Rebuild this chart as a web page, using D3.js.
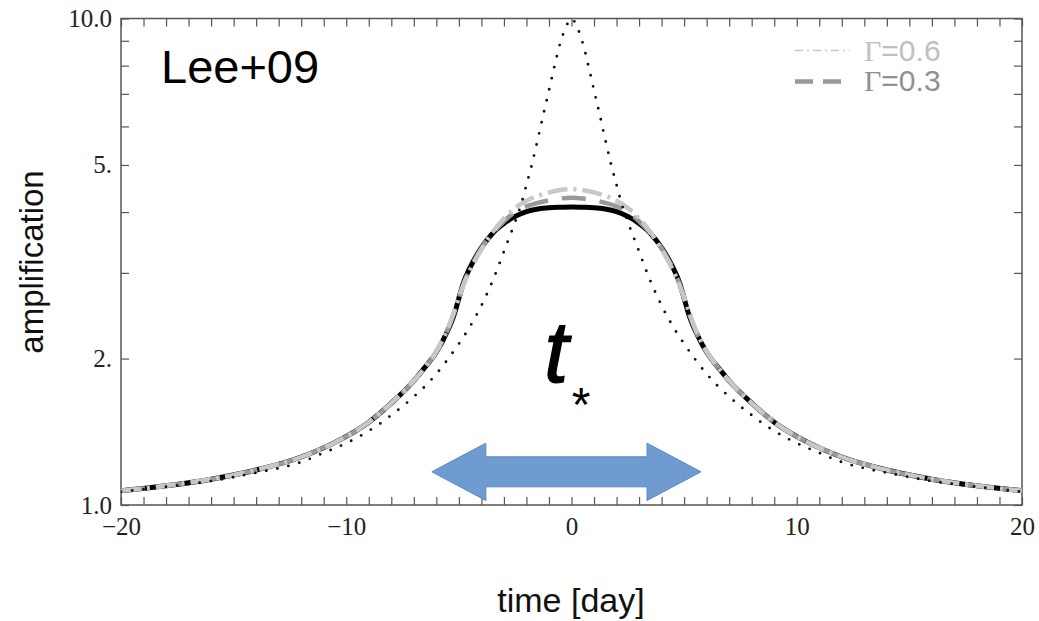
<!DOCTYPE html>
<html>
<head>
<meta charset="utf-8">
<script src="https://cdn.jsdelivr.net/npm/d3@7"></script>
<style>
  html, body { margin: 0; padding: 0; background: #fff; }
  svg { display: block; }
</style>
</head>
<body>
<svg id="chart" width="1039" height="621"></svg>
<script>
// Time samples (days) for the finite-source light curves
const days = [-20,-18,-16,-14,-12,-10.5,-9,-8,-7,-6.5,-6,-5.5,-5.2,-5,-4.8,-4.5,-4,-3.5,-3,-2.5,-2,-1.5,-1,-0.5,0,
              0.5,1,1.5,2,2.5,3,3.5,4,4.5,4.8,5,5.2,5.5,6,6.5,7,8,9,10.5,12,14,16,18,20];

// Uniform source (solid)
const uniformSource = [1.07,1.095,1.13,1.18,1.255,1.345,1.48,1.62,1.80,1.92,2.06,2.28,2.47,2.66,2.86,3.08,3.38,3.62,3.79,3.92,4.01,4.06,4.085,4.095,4.10,
                       4.095,4.085,4.06,4.01,3.92,3.79,3.62,3.38,3.08,2.86,2.66,2.47,2.28,2.06,1.92,1.80,1.62,1.48,1.345,1.255,1.18,1.13,1.095,1.07];

// Limb-darkened source, Gamma = 0.3 (dashed)
const gamma03 = [1.07,1.095,1.13,1.18,1.255,1.345,1.48,1.62,1.80,1.92,2.06,2.29,2.49,2.66,2.84,3.06,3.37,3.62,3.83,4.00,4.11,4.18,4.23,4.265,4.28,
                 4.265,4.23,4.18,4.11,4.00,3.83,3.62,3.37,3.06,2.84,2.66,2.49,2.29,2.06,1.92,1.80,1.62,1.48,1.345,1.255,1.18,1.13,1.095,1.07];

// Limb-darkened source, Gamma = 0.6 (dash-dot)
const gamma06 = [1.07,1.095,1.13,1.18,1.255,1.345,1.48,1.62,1.80,1.92,2.07,2.30,2.51,2.67,2.83,3.04,3.35,3.64,3.88,4.08,4.22,4.32,4.39,4.44,4.46,
                 4.44,4.39,4.32,4.22,4.08,3.88,3.64,3.35,3.04,2.83,2.67,2.51,2.30,2.07,1.92,1.80,1.62,1.48,1.345,1.255,1.18,1.13,1.095,1.07];

// Point source (dotted)
const pointDays = [-20,-18,-16,-14,-13,-12,-11,-10,-9,-8.5,-8,-7.5,-7,-6.5,-6,-5.5,-5,-4.5,-4,-3.5,-3.25,-3,-2.75,-2.5,-2.25,-2,-1.75,-1.5,-1.25,-1,-0.75,-0.5,-0.25,0,
                   0.25,0.5,0.75,1,1.25,1.5,1.75,2,2.25,2.5,2.75,3,3.25,3.5,4,4.5,5,5.5,6,6.5,7,7.5,8,8.5,9,10,11,12,13,14,16,18,20];
const pointSource = [1.065,1.09,1.12,1.165,1.19,1.225,1.28,1.34,1.42,1.47,1.53,1.595,1.67,1.755,1.86,1.99,2.145,2.33,2.57,2.89,3.09,3.32,3.56,3.82,4.13,4.55,5.03,5.64,6.35,7.12,8.0,8.9,9.6,10.0,
                     9.6,8.9,8.0,7.12,6.35,5.64,5.03,4.55,4.13,3.82,3.56,3.32,3.09,2.89,2.57,2.33,2.145,1.99,1.86,1.755,1.67,1.595,1.53,1.47,1.42,1.34,1.28,1.225,1.19,1.165,1.12,1.09,1.065];

// Axis ticks and labels
const xMinorTicks = d3.range(-20, 21, 1);
const xLabelTicks = [-20, -10, 0, 10, 20];
const yMinorTicks = [1, 2, 3, 4, 5, 6, 7, 8, 9, 10];
const yLabels = {1: "1.0", 2: "2.", 5: "5.", 10: "10.0"};

// Legend entries
const legendEntries = ["0.6", "0.3"];

// Width of the t* arrow in days, and its height on the amplification axis
const arrowStart = -6.2, arrowEnd = 5.75, arrowLevel = 1.17;

const svg = d3.select("#chart");
const W = 1039, H = 621;
const plot = {left: 121, right: 1022, top: 18.5, bottom: 505};

svg.append("rect").attr("width", W).attr("height", H).attr("fill", "#fff");

const x = d3.scaleLinear().domain([-20, 20]).range([plot.left, plot.right]);
const y = d3.scaleLog().domain([1, 10]).range([plot.bottom, plot.top]);

const frameColor = "#555";
const labelFont = "'Liberation Serif', 'Times New Roman', serif";
const sansFont = "'Liberation Sans', Arial, sans-serif";

// Ticks on all four sides, pointing inward
const tickLen = 8;
function styleAxis(g) {
  g.select(".domain").remove();
  g.selectAll(".tick line").attr("stroke", frameColor).attr("stroke-width", 1.2);
}
svg.append("g").attr("transform", `translate(0,${plot.bottom})`)
  .call(d3.axisBottom(x).tickValues(xMinorTicks).tickSize(-tickLen).tickFormat(""))
  .call(styleAxis);
svg.append("g").attr("transform", `translate(0,${plot.top})`)
  .call(d3.axisTop(x).tickValues(xMinorTicks).tickSize(-tickLen).tickFormat(""))
  .call(styleAxis);
svg.append("g").attr("transform", `translate(${plot.left},0)`)
  .call(d3.axisLeft(y).tickValues(yMinorTicks).tickSize(-tickLen).tickFormat(""))
  .call(styleAxis);
svg.append("g").attr("transform", `translate(${plot.right},0)`)
  .call(d3.axisRight(y).tickValues(yMinorTicks).tickSize(-tickLen).tickFormat(""))
  .call(styleAxis);

// Tick labels
const xLab = svg.append("g").attr("transform", `translate(0,${plot.bottom})`)
  .call(d3.axisBottom(x).tickValues(xLabelTicks).tickSize(0).tickPadding(12).tickFormat(d3.format("d")));
xLab.select(".domain").remove();
xLab.selectAll("text").attr("font-family", labelFont).attr("font-size", 25).attr("fill", "#222");

const yLab = svg.append("g").attr("transform", `translate(${plot.left},0)`)
  .call(d3.axisLeft(y).tickValues([1, 2, 5, 10]).tickSize(0).tickPadding(9).tickFormat(d => yLabels[d]));
yLab.select(".domain").remove();
yLab.selectAll("text").attr("font-family", labelFont).attr("font-size", 25).attr("fill", "#222");

// Frame
svg.append("rect")
  .attr("x", plot.left).attr("y", plot.top)
  .attr("width", plot.right - plot.left).attr("height", plot.bottom - plot.top)
  .attr("fill", "none").attr("stroke", frameColor).attr("stroke-width", 1.5);

// Clip curves to the plotting area
svg.append("clipPath").attr("id", "plotClip").append("rect")
  .attr("x", plot.left).attr("y", plot.top - 2)
  .attr("width", plot.right - plot.left).attr("height", plot.bottom - plot.top + 2);

const line = d3.line().x(d => x(d[0])).y(d => y(d[1])).curve(d3.curveMonotoneX);
const curves = svg.append("g").attr("clip-path", "url(#plotClip)");

curves.append("path")
  .attr("d", line(d3.zip(days, uniformSource)))
  .attr("fill", "none").attr("stroke", "#000").attr("stroke-width", 5);

curves.append("path")
  .attr("d", line(d3.zip(days, gamma03)))
  .attr("fill", "none").attr("stroke", "#999").attr("stroke-width", 4.5)
  .attr("stroke-dasharray", "24,14");

curves.append("path")
  .attr("d", line(d3.zip(days, gamma06)))
  .attr("fill", "none").attr("stroke", "#c8c8c8").attr("stroke-width", 4.5)
  .attr("stroke-dasharray", "20,6,3,6");

curves.append("path")
  .attr("d", line(d3.zip(pointDays, pointSource)))
  .attr("fill", "none").attr("stroke", "#111").attr("stroke-width", 2.9)
  .attr("stroke-linecap", "round").attr("stroke-dasharray", "0,11.3");

// Legend
const legendX0 = 795, legendX1 = 850, legendTextX = 864;
const legendStyles = [
  {color: "#c8c8c8", width: 1.6, dash: "8,4,2,4", lineY: 50.5, textY: 61, text: "#c0c0c0"},
  {color: "#999", width: 4.5, dash: "18,10", lineY: 81.5, textY: 91, text: "#909090"}
];
legendEntries.forEach((g, i) => {
  const s = legendStyles[i];
  svg.append("line")
    .attr("x1", legendX0).attr("x2", legendX1).attr("y1", s.lineY).attr("y2", s.lineY)
    .attr("stroke", s.color).attr("stroke-width", s.width).attr("stroke-dasharray", s.dash);
  const t = svg.append("text").attr("x", legendTextX).attr("y", s.textY)
    .attr("font-size", 30).attr("fill", s.text);
  t.append("tspan").attr("font-family", labelFont).text("Γ");
  t.append("tspan").attr("font-family", sansFont).text("=" + g);
});

// Panel tag
svg.append("text").attr("x", 161).attr("y", 83)
  .attr("font-family", sansFont).attr("font-size", 47)
  .attr("fill", "#000").text("Lee+09");

// t* annotation
svg.append("text").attr("x", 544).attr("y", 382)
  .attr("font-family", sansFont).attr("font-style", "italic")
  .attr("font-size", 88).attr("fill", "#000")
  .attr("stroke", "#000").attr("stroke-width", 1.2).text("t");
svg.append("text").attr("x", 581).attr("y", 421).attr("text-anchor", "middle")
  .attr("font-family", sansFont)
  .attr("font-size", 48).attr("fill", "#000").text("*");

// Double-headed arrow spanning t*
const headLen = 54, headHalf = 28.7, shaftHalf = 15;
const ax0 = x(arrowStart), ax1 = x(arrowEnd), ay = y(arrowLevel);
const p = d3.path();
p.moveTo(ax0, ay);
p.lineTo(ax0 + headLen, ay - headHalf);
p.lineTo(ax0 + headLen, ay - shaftHalf);
p.lineTo(ax1 - headLen, ay - shaftHalf);
p.lineTo(ax1 - headLen, ay - headHalf);
p.lineTo(ax1, ay);
p.lineTo(ax1 - headLen, ay + headHalf);
p.lineTo(ax1 - headLen, ay + shaftHalf);
p.lineTo(ax0 + headLen, ay + shaftHalf);
p.lineTo(ax0 + headLen, ay + headHalf);
p.closePath();
svg.append("path").attr("d", p.toString())
  .attr("fill", "#6f9bd0").attr("stroke", "#5b87c0").attr("stroke-width", 1);

// Axis titles
svg.append("text")
  .attr("transform", `translate(43,262) rotate(-90)`)
  .attr("text-anchor", "middle")
  .attr("font-family", sansFont).attr("font-size", 33)
  .attr("fill", "#111").text("amplification");
svg.append("text").attr("x", 571).attr("y", 612).attr("text-anchor", "middle")
  .attr("font-family", sansFont).attr("font-size", 34)
  .attr("fill", "#111").text("time [day]");
</script>
</body>
</html>
